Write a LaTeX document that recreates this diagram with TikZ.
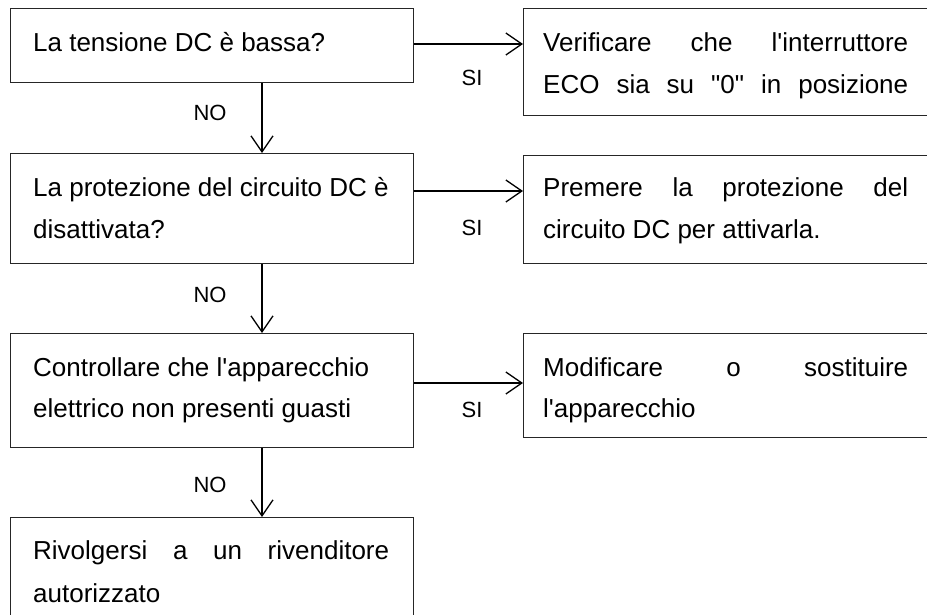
\documentclass[tikz,border=0pt]{standalone}
\usepackage{fontspec}
\setmainfont{Liberation Sans}[Ligatures=TeXOff]
\usetikzlibrary{arrows.meta}
\begin{document}
\begin{tikzpicture}[x=1pt,y=-1pt,
  box/.style={draw=black!85, line width=1.2pt, rectangle, inner sep=0pt, anchor=north west},
  txt/.style={anchor=base west, inner sep=0pt, font=\fontsize{26}{30}\selectfont},
  lbl/.style={inner sep=0pt, font=\fontsize{22}{26}\selectfont},
  arr/.style={line width=1.3pt, -{Straight Barb[length=16pt,width=22pt]}}]
\useasboundingbox (0,0) rectangle (927,614);
\clip (0,0) rectangle (927,614);

% boxes
\node[box, minimum width=403pt, minimum height=74pt]  (b1) at (10,8) {};
\node[box, minimum width=420pt, minimum height=107pt] (r1) at (523,8) {};
\node[box, minimum width=403pt, minimum height=110pt] (b2) at (10,153) {};
\node[box, minimum width=420pt, minimum height=108pt] (r2) at (523,155) {};
\node[box, minimum width=403pt, minimum height=114pt] (b3) at (10,333) {};
\node[box, minimum width=420pt, minimum height=104pt] (r3) at (523,333) {};
\node[box, minimum width=403pt, minimum height=120pt] (b4) at (10,517) {};

% texts
\node[txt] (t1) at (33,51) {La tensione DC è bassa?};
\node[txt] (t2a) at (543,51) {\makebox[365pt][s]{Verificare che l'interruttore}};
\node[txt] (t2b) at (543,93) {\makebox[365pt][s]{ECO sia su "0" in posizione}};
\node[txt] (t3a) at (33,196) {La protezione del circuito DC è};
\node[txt] (t3b) at (33,238) {disattivata?};
\node[txt] (t4a) at (543,196) {\makebox[365pt][s]{Premere la protezione del}};
\node[txt] (t4b) at (543,238) {circuito DC per attivarla.};
\node[txt] (t5a) at (33,376) {Controllare che l'apparecchio};
\node[txt] (t5b) at (33,417) {elettrico non presenti guasti};
\node[txt] (t6a) at (543,376) {\makebox[365pt][s]{Modificare o sostituire}};
\node[txt] (t6b) at (543,417) {l'apparecchio};
\node[txt] (t7a) at (33,559) {\makebox[356pt][s]{Rivolgersi a un rivenditore}};
\node[txt] (t7b) at (33,602) {autorizzato};

% connectors
\coordinate (h1) at (0,44);
\coordinate (h2) at (0,191);
\coordinate (h3) at (0,383);
\coordinate (v) at (262,0);
\draw[arr] (b1.east |- h1) -- (r1.west |- h1);
\draw[arr] (b2.east |- h2) -- (r2.west |- h2);
\draw[arr] (b3.east |- h3) -- (r3.west |- h3);
\draw[arr] (b1.south -| v) -- (b2.north -| v);
\draw[arr] (b2.south -| v) -- (b3.north -| v);
\draw[arr] (b3.south -| v) -- (b4.north -| v);

% labels
\node[lbl] (s1) at (472,78) {SI};
\node[lbl] (s2) at (472,228) {SI};
\node[lbl] (s3) at (472,410) {SI};
\node[lbl] (n1) at (210,113) {NO};
\node[lbl] (n2) at (210,295) {NO};
\node[lbl] (n3) at (210,485) {NO};
\end{tikzpicture}
\end{document}
